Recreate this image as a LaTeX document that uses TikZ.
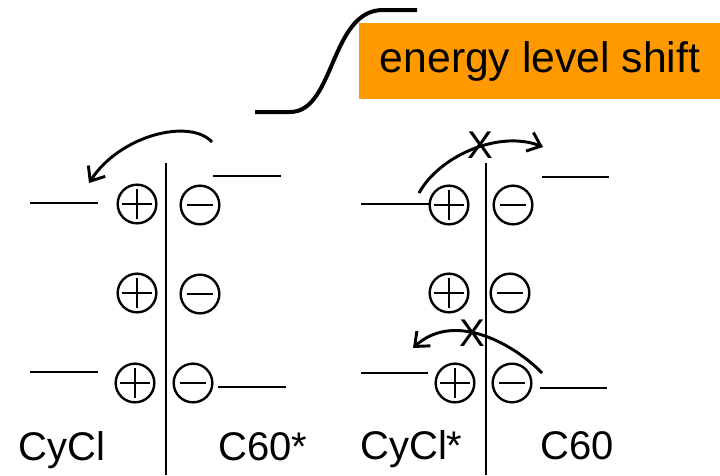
\documentclass[tikz,border=0pt]{standalone}
\usepackage{fontspec}
\setmainfont{Liberation Sans}
\usetikzlibrary{arrows.meta}
\definecolor{boxorange}{RGB}{255,153,0}
\begin{document}
\begin{tikzpicture}[x=0.75pt,y=-0.75pt,
  lvl/.style={line width=1.5pt},
  divider/.style={line width=1.7pt},
  chg/.style={circle, draw, line width=1.8pt, minimum size=29pt, inner sep=0pt},
  plusc/.style={chg, path picture={\draw[line width=1.8pt]
      (path picture bounding box.center) ++(-11.5pt,0pt) -- ++(23pt,0pt)
      (path picture bounding box.center) ++(0pt,-11.5pt) -- ++(0pt,23pt);}},
  minusc/.style={chg, path picture={\draw[line width=1.8pt]
      (path picture bounding box.center) ++(-10pt,0pt) -- ++(20pt,0pt);}},
  transfer/.style={line width=2.2pt, -{Straight Barb[length=9pt,width=15pt]}},
  lbl/.style={inner sep=0pt, anchor=base west, font=\fontsize{30}{36}\selectfont},
  cross/.style={inner sep=0pt, font=\fontsize{29}{34}\selectfont},
]
\useasboundingbox (0,0) rectangle (720,475);

% energy level shift
\node (shift) [fill=boxorange, minimum width=271pt, minimum height=57pt, inner sep=0pt,
  anchor=north west, font=\fontsize{32}{38}\selectfont] at (359,23) {energy level shift};
\coordinate (s1) at (255,112);
\coordinate (s2) at (290,112);
\coordinate (s3) at (383,10);
\coordinate (s4) at (417,10);
\draw[line width=3pt] (s1) -- (s2) .. controls (335,112) and (330,10) .. (s3) -- (s4);

% dividers
\coordinate (d1t) at (166,163);
\coordinate (d1b) at (166,475);
\coordinate (d2t) at (486,163);
\coordinate (d2b) at (486,475);
\draw[divider] (d1t) -- (d1b);
\draw[divider] (d2t) -- (d2b);

% charges, left panel
\node[plusc]  (p1) at (137,204) {};
\node[minusc] (m1) at (200,205) {};
\node[plusc]  (p2) at (137,293) {};
\node[minusc] (m2) at (200,294) {};
\node[plusc]  (p3) at (135,383) {};
\node[minusc] (m3) at (193,383) {};
% charges, right panel
\node[plusc]  (p4) at (449,205) {};
\node[minusc] (m4) at (513,205) {};
\node[plusc]  (p5) at (449,293) {};
\node[minusc] (m5) at (510,293) {};
\node[plusc]  (p6) at (455,383) {};
\node[minusc] (m6) at (512,383) {};

% levels, left panel
\coordinate (la1) at (30,203);  \coordinate (la2) at (98,203);
\coordinate (lb1) at (213,176); \coordinate (lb2) at (281,176);
\coordinate (lc1) at (30,372);  \coordinate (lc2) at (98,372);
\coordinate (ld1) at (218,387); \coordinate (ld2) at (286,387);
\draw[lvl] (la1) -- (la2);
\draw[lvl] (lb1) -- (lb2);
\draw[lvl] (lc1) -- (lc2);
\draw[lvl] (ld1) -- (ld2);
% levels, right panel
\coordinate (ra1) at (361,204); \coordinate (ra2) at (430,204);
\coordinate (rb1) at (542,177); \coordinate (rb2) at (609,177);
\coordinate (rc1) at (361,373); \coordinate (rc2) at (428,373);
\coordinate (rd1) at (540,388); \coordinate (rd2) at (607,388);
\draw[lvl] (ra1) -- (ra2);
\draw[lvl] (rb1) -- (rb2);
\draw[lvl] (rc1) -- (rc2);
\draw[lvl] (rd1) -- (rd2);

% arrows
\coordinate (a1s) at (212,142); \coordinate (a1e) at (89,183);
\draw[transfer] (a1s) .. controls (190,118) and (120,135) .. (a1e);
\coordinate (a2s) at (419,193); \coordinate (a2e) at (543,147);
\draw[transfer] (a2s) .. controls (440,155) and (500,130) .. (a2e);
\coordinate (a3s) at (542,373); \coordinate (a3e) at (413,348);
\draw[transfer] (a3s) .. controls (515,345) and (455,310) .. (a3e);
\node[cross] (x1) at (480,145) {X};
\node[cross] (x2) at (472,333) {X};

% labels
\node[lbl] (cycl)  at (18,460)  {CyCl};
\node[lbl] (c60s)  at (218,460) {C60*};
\node[lbl] (cycls) at (360,459) {CyCl*};
\node[lbl] (c60)   at (540,459) {C60};
\end{tikzpicture}
\end{document}
